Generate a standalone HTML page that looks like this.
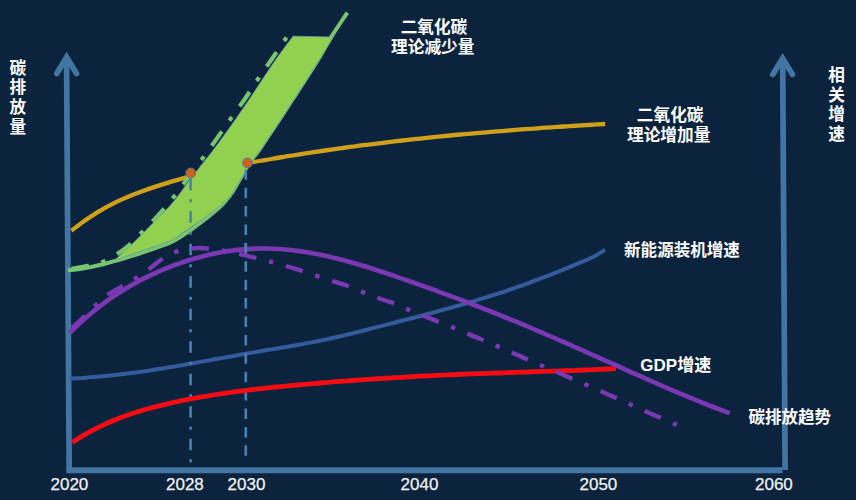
<!DOCTYPE html>
<html lang="zh"><head><meta charset="utf-8"><title>碳排放趋势</title>
<style>
html,body{margin:0;padding:0;background:#0c233e;}
body{width:856px;height:500px;overflow:hidden;font-family:"Liberation Sans",sans-serif;}
svg{display:block;}
</style></head><body>
<svg width="856" height="500" viewBox="0 0 856 500" role="img">
<title>碳排放趋势示意图</title>
<desc>碳排放量 / 相关增速 / 二氧化碳理论减少量 / 二氧化碳理论增加量 / 新能源装机增速 / GDP增速 / 碳排放趋势 / 2020 2028 2030 2040 2050 2060</desc>
<rect width="856" height="500" fill="#0c233e"/>
<g fill="none" stroke="#4375a2" stroke-width="5.7">
<path d="M69.2 470.2 L66.55 58"/>
<path d="M56.8 73.5 L66.6 57.3 L76.5 73.5" stroke-linecap="round" stroke-linejoin="miter" stroke-miterlimit="10"/>
<path d="M785.1 470 L782.7 59"/>
<path d="M772.8 74.4 L782.65 58.5 L792.5 74.4" stroke-linecap="round" stroke-linejoin="miter" stroke-miterlimit="10"/>
</g>
<path d="M66.25 470.2 H782.4" fill="none" stroke="#4375a2" stroke-width="6"/>
<path d="M69.6 378.6C71.6 378.5 77.5 378.2 81.5 378.0C85.5 377.7 89.4 377.5 93.4 377.1C97.4 376.8 101.3 376.5 105.3 376.1C109.3 375.7 113.2 375.3 117.2 374.8C121.2 374.3 125.1 373.9 129.1 373.3C133.1 372.8 137.0 372.3 141.0 371.7C145.0 371.2 148.9 370.6 152.9 370.0C156.9 369.4 160.8 368.7 164.8 368.1C168.7 367.4 172.7 366.8 176.7 366.1C180.6 365.4 184.6 364.7 188.6 364.0C192.5 363.3 196.5 362.6 200.5 361.9C204.4 361.2 208.4 360.5 212.4 359.8C216.3 359.1 220.3 358.3 224.3 357.6C228.2 356.9 232.2 356.2 236.2 355.5C240.1 354.7 244.1 354.0 248.1 353.3C252.0 352.6 256.0 351.9 260.0 351.3C263.9 350.6 267.9 349.9 271.9 349.2C275.8 348.6 279.8 347.9 283.8 347.2C287.7 346.6 291.7 345.9 295.7 345.2C299.6 344.5 303.6 343.8 307.6 343.1C311.5 342.3 315.5 341.6 319.5 340.8C323.4 340.0 327.4 339.2 331.4 338.3C335.3 337.4 339.3 336.5 343.2 335.6C347.2 334.6 351.2 333.7 355.1 332.7C359.1 331.7 363.1 330.7 367.0 329.7C371.0 328.7 375.0 327.6 378.9 326.6C382.9 325.6 386.9 324.6 390.8 323.6C394.8 322.6 398.8 321.6 402.7 320.5C406.7 319.5 410.7 318.5 414.6 317.5C418.6 316.4 422.6 315.4 426.5 314.4C430.5 313.3 434.5 312.3 438.4 311.2C442.4 310.1 446.4 309.0 450.3 307.9C454.3 306.8 458.3 305.7 462.2 304.5C466.2 303.4 470.2 302.2 474.1 301.1C478.1 299.9 482.1 298.7 486.0 297.4C490.0 296.2 494.0 294.9 497.9 293.7C501.9 292.4 505.9 291.1 509.8 289.7C513.8 288.4 517.7 287.0 521.7 285.6C525.7 284.1 529.6 282.7 533.6 281.2C537.6 279.7 541.5 278.2 545.5 276.7C549.5 275.2 553.4 273.6 557.4 272.0C561.4 270.4 565.3 268.8 569.3 267.2C573.3 265.5 577.2 263.9 581.2 262.2C585.2 260.5 589.1 259.0 593.1 257.0C597.1 254.9 603.0 251.0 605.0 249.8" fill="none" stroke="#355b9c" stroke-width="4"/>
<path d="M71.4 230.7C73.4 229.2 79.3 224.5 83.2 221.7C87.1 218.9 91.1 216.2 95.0 213.8C99.0 211.3 102.9 209.1 106.8 206.9C110.8 204.8 114.7 202.8 118.6 200.9C122.6 199.1 126.5 197.4 130.4 195.7C134.4 194.1 138.3 192.6 142.3 191.2C146.2 189.7 150.1 188.4 154.1 187.1C158.0 185.8 161.9 184.6 165.9 183.4C169.8 182.2 173.8 181.0 177.7 179.9C181.6 178.7 187.5 177.0 189.5 176.5M247.5 163.2C249.5 162.8 255.4 161.7 259.4 161.0C263.4 160.3 267.4 159.7 271.3 159.0C275.3 158.3 279.3 157.6 283.3 157.0C287.2 156.3 291.2 155.7 295.2 155.0C299.2 154.4 303.1 153.8 307.1 153.2C311.1 152.6 315.1 152.0 319.0 151.4C323.0 150.8 327.0 150.2 331.0 149.6C334.9 149.1 338.9 148.5 342.9 148.0C346.9 147.4 350.8 146.9 354.8 146.4C358.8 145.8 362.8 145.3 366.7 144.8C370.7 144.3 374.7 143.8 378.7 143.3C382.6 142.8 386.6 142.4 390.6 141.9C394.6 141.4 398.5 141.0 402.5 140.5C406.5 140.1 410.5 139.6 414.4 139.2C418.4 138.8 422.4 138.3 426.4 137.9C430.3 137.5 434.3 137.1 438.3 136.7C442.2 136.3 446.2 135.9 450.2 135.5C454.2 135.2 458.1 134.8 462.1 134.4C466.1 134.0 470.1 133.7 474.0 133.3C478.0 133.0 482.0 132.6 486.0 132.3C489.9 132.0 493.9 131.6 497.9 131.3C501.9 131.0 505.8 130.7 509.8 130.3C513.8 130.0 517.8 129.7 521.7 129.4C525.7 129.1 529.7 128.8 533.7 128.6C537.6 128.3 541.6 128.0 545.6 127.7C549.6 127.4 553.5 127.2 557.5 126.9C561.5 126.6 565.5 126.4 569.4 126.1C573.4 125.9 577.4 125.6 581.4 125.4C585.3 125.2 589.3 124.9 593.3 124.7C597.3 124.5 603.2 124.1 605.2 124.0" fill="none" stroke="#d0a01b" stroke-width="4.3"/>
<path d="M67.8 270.2C69.5 270.1 74.5 269.8 78.0 269.3C81.5 268.8 84.8 268.2 89.0 267.4C93.2 266.6 98.5 265.4 103.0 264.3C107.5 263.2 109.3 262.7 116.0 260.7C122.7 258.7 133.8 255.4 143.0 252.3C152.2 249.2 163.7 245.6 171.5 242.0C179.3 238.4 184.8 234.0 190.0 230.5C195.2 227.0 199.1 223.8 203.0 220.8C206.9 217.8 210.1 215.4 213.5 212.5C216.9 209.6 219.9 207.2 223.2 203.6C226.4 200.0 230.2 195.1 233.0 191.0C235.8 186.9 237.8 182.8 240.0 179.0C242.2 175.2 244.2 171.7 246.3 168.2C248.4 164.7 250.6 161.4 252.8 158.2C255.1 155.0 256.0 154.5 259.8 149.0C263.6 143.5 270.5 133.2 275.9 125.0C281.3 116.8 287.3 107.5 292.2 100.0C297.1 92.5 300.9 86.8 305.2 80.0C309.5 73.2 313.8 66.8 318.2 59.5C322.6 52.2 326.8 44.2 331.6 36.4C336.5 28.6 344.7 16.6 347.3 12.6" fill="none" stroke="#79c46f" stroke-width="4"/>
<path d="M115.0 260.0C117.7 257.5 125.4 250.6 131.2 245.0C137.1 239.4 144.8 231.5 150.0 226.2C155.2 221.0 158.3 218.1 162.5 213.8C166.7 209.4 171.3 204.5 175.0 200.0C178.7 195.5 181.5 191.2 184.8 186.8C188.1 182.4 191.6 177.7 194.6 173.8C197.6 169.9 199.5 167.5 202.6 163.5C205.7 159.5 208.5 156.4 213.3 150.0C218.1 143.6 224.9 134.4 231.6 125.0C238.2 115.6 245.9 104.3 253.2 93.5C260.5 82.7 268.9 69.5 275.5 60.0C282.1 50.5 290.2 40.2 293.1 36.2L333.1 37.1L333.1 37.1C330.8 40.8 323.8 52.4 319.4 59.5C314.9 66.7 310.7 73.2 306.4 80.0C302.1 86.8 298.3 92.5 293.4 100.0C288.5 107.5 282.5 116.8 277.1 125.0C271.7 133.2 264.9 143.5 261.0 149.0C257.1 154.5 256.3 155.0 254.0 158.2C251.7 161.4 249.5 164.9 247.3 168.4C245.1 171.9 243.2 175.3 241.0 179.0C238.8 182.7 236.7 186.6 233.8 190.6C230.9 194.6 226.9 199.5 223.5 203.0C220.1 206.5 214.9 210.3 213.2 211.8L171.2 240.8L115.0 260.0Z" fill="#92d050" stroke="#6a9db0" stroke-width="0.8" stroke-linejoin="round"/>
<path d="M66.5 269.6C70.1 269.0 81.8 267.2 88.0 265.9C94.2 264.6 97.6 264.3 103.5 261.6C109.4 258.9 117.2 254.4 123.5 249.7C129.8 244.9 135.5 238.8 141.2 233.1C147.0 227.4 152.8 221.3 158.2 215.3C163.6 209.3 168.8 203.2 173.8 196.9C178.8 190.6 183.4 184.1 188.2 177.7C193.0 171.3 197.7 164.9 202.5 158.4C207.3 151.9 212.1 145.2 216.8 138.6C221.5 132.0 226.1 125.2 230.8 118.6C235.4 112.0 240.1 105.8 244.7 99.2C249.3 92.6 253.6 85.6 258.1 78.9C262.6 72.2 267.3 65.6 271.9 59.0C276.4 52.4 282.9 42.7 285.4 39.1C287.9 35.5 286.5 37.5 286.7 37.2" fill="none" stroke="#79c46f" stroke-width="4.2" stroke-dasharray="17.5 13.1 4.4 13.2" stroke-dashoffset="43.0"/>
<path d="M190.6 178.8 V462.4" fill="none" stroke="#4a80b0" stroke-width="2.6" stroke-dasharray="11.5 9 3 9"/>
<path d="M245.8 169.3 V456" fill="none" stroke="#4a80b0" stroke-width="2.6" stroke-dasharray="10.5 7.9"/>
<path d="M72.3 442.4C73.6 441.6 77.6 438.9 80.3 437.3C83.0 435.7 85.6 434.1 88.3 432.7C90.9 431.2 93.6 429.8 96.3 428.4C98.9 427.1 101.6 425.8 104.3 424.6C106.9 423.3 109.6 422.2 112.3 421.0C114.9 419.9 117.6 418.9 120.3 417.8C122.9 416.8 125.6 415.8 128.2 414.9C130.9 414.0 133.6 413.1 136.2 412.3C138.9 411.4 141.6 410.6 144.2 409.8C146.9 409.1 149.6 408.3 152.2 407.6C154.9 406.9 157.6 406.2 160.2 405.6C162.9 404.9 165.5 404.3 168.2 403.6C170.9 403.0 173.5 402.4 176.2 401.9C178.9 401.3 181.5 400.7 184.2 400.2C186.9 399.6 189.5 399.1 192.2 398.6C194.9 398.1 197.5 397.6 200.2 397.1C202.8 396.7 205.5 396.2 208.2 395.8C210.8 395.3 213.5 394.9 216.2 394.5C218.8 394.1 221.5 393.7 224.2 393.3C226.8 392.9 229.5 392.5 232.2 392.2C234.8 391.8 237.5 391.4 240.1 391.1C242.8 390.8 245.5 390.4 248.1 390.1C250.8 389.8 253.5 389.5 256.1 389.2C258.8 388.9 261.5 388.6 264.1 388.3C266.8 388.0 269.5 387.7 272.1 387.4C274.8 387.1 277.4 386.9 280.1 386.6C282.8 386.4 285.4 386.1 288.1 385.8C290.8 385.6 293.4 385.3 296.1 385.1C298.8 384.9 301.4 384.6 304.1 384.4C306.8 384.2 309.4 383.9 312.1 383.7C314.7 383.5 317.4 383.2 320.1 383.0C322.7 382.8 325.4 382.6 328.1 382.4C330.7 382.1 333.4 381.9 336.1 381.7C338.7 381.5 341.4 381.3 344.1 381.1C346.7 380.9 349.4 380.7 352.0 380.5C354.7 380.3 357.4 380.1 360.0 379.9C362.7 379.7 365.4 379.5 368.0 379.3C370.7 379.1 373.4 379.0 376.0 378.8C378.7 378.6 381.3 378.4 384.0 378.3C386.7 378.1 389.3 377.9 392.0 377.8C394.7 377.6 397.3 377.4 400.0 377.3C402.7 377.1 405.3 377.0 408.0 376.8C410.7 376.7 413.3 376.5 416.0 376.4C418.6 376.3 421.3 376.1 424.0 376.0C426.6 375.9 429.3 375.7 432.0 375.6C434.6 375.5 437.3 375.4 440.0 375.2C442.6 375.1 445.3 375.0 448.0 374.9C450.6 374.8 453.3 374.7 455.9 374.5C458.6 374.4 461.3 374.3 463.9 374.2C466.6 374.1 469.3 374.0 471.9 373.9C474.6 373.8 477.3 373.7 479.9 373.6C482.6 373.5 485.3 373.4 487.9 373.3C490.6 373.2 493.2 373.1 495.9 373.0C498.6 373.0 501.2 372.9 503.9 372.8C506.6 372.7 509.2 372.6 511.9 372.5C514.6 372.4 517.2 372.3 519.9 372.2C522.6 372.1 525.2 372.0 527.9 372.0C530.5 371.9 533.2 371.8 535.9 371.7C538.5 371.6 541.2 371.5 543.9 371.4C546.5 371.3 549.2 371.2 551.9 371.1C554.5 371.1 557.2 371.0 559.9 370.9C562.5 370.8 565.2 370.7 567.8 370.6C570.5 370.5 573.2 370.4 575.8 370.3C578.5 370.2 581.2 370.1 583.8 370.0C586.5 369.9 589.2 369.8 591.8 369.7C594.5 369.5 597.2 369.4 599.8 369.3C602.5 369.2 605.1 369.1 607.8 369.0C610.5 368.9 614.5 368.7 615.8 368.6" fill="none" stroke="#f40c12" stroke-width="4.8"/>
<path d="M69.6 332.9C71.6 331.0 77.6 325.1 81.6 321.5C85.6 317.9 89.6 314.5 93.6 311.2C97.6 308.0 101.6 304.9 105.6 301.9C109.6 299.0 113.6 296.3 117.6 293.6C121.6 291.0 125.6 288.6 129.6 286.2C133.6 283.9 137.6 281.7 141.6 279.6C145.6 277.5 149.6 275.6 153.6 273.8C157.6 271.9 161.6 270.2 165.6 268.6C169.6 267.0 173.6 265.4 177.6 264.0C181.6 262.6 185.6 261.3 189.6 260.0C193.6 258.8 197.6 257.7 201.6 256.7C205.6 255.6 209.6 254.7 213.6 253.8C217.6 253.0 221.6 252.2 225.6 251.6C229.6 250.9 233.6 250.4 237.6 249.9C241.6 249.5 245.6 249.1 249.6 248.9C253.6 248.6 257.6 248.5 261.6 248.5C265.6 248.4 269.6 248.5 273.6 248.7C277.6 248.9 281.6 249.2 285.6 249.5C289.6 249.9 293.6 250.4 297.6 250.9C301.6 251.4 305.6 252.1 309.6 252.7C313.6 253.4 317.6 254.2 321.6 255.1C325.6 255.9 329.6 256.8 333.6 257.8C337.6 258.7 341.6 259.8 345.6 260.8C349.6 261.9 353.6 263.0 357.6 264.2C361.6 265.4 365.6 266.6 369.6 267.8C373.6 269.1 377.6 270.4 381.6 271.7C385.6 273.0 389.6 274.3 393.6 275.7C397.6 277.1 401.7 278.5 405.7 279.9C409.7 281.3 413.7 282.7 417.7 284.1C421.7 285.5 425.7 286.9 429.7 288.4C433.7 289.8 437.7 291.3 441.7 292.8C445.7 294.2 449.7 295.7 453.7 297.2C457.7 298.7 461.7 300.2 465.7 301.7C469.7 303.2 473.7 304.8 477.7 306.3C481.7 307.9 485.7 309.5 489.7 311.0C493.7 312.6 497.7 314.2 501.7 315.8C505.7 317.5 509.7 319.1 513.7 320.7C517.7 322.4 521.7 324.1 525.7 325.7C529.7 327.4 533.7 329.1 537.7 330.8C541.7 332.5 545.7 334.3 549.7 336.0C553.7 337.7 557.7 339.4 561.7 341.2C565.7 342.9 569.7 344.7 573.7 346.5C577.7 348.2 581.7 350.0 585.7 351.8C589.7 353.6 593.7 355.4 597.7 357.2C601.7 359.0 605.7 360.7 609.7 362.5C613.7 364.3 617.7 366.1 621.7 367.9C625.7 369.7 629.7 371.5 633.7 373.3C637.7 375.1 641.7 376.8 645.7 378.6C649.7 380.4 653.7 382.1 657.7 383.9C661.7 385.6 665.7 387.4 669.7 389.1C673.7 390.8 677.7 392.5 681.7 394.2C685.7 395.8 689.7 397.5 693.7 399.1C697.7 400.8 701.7 402.4 705.7 404.0C709.7 405.6 713.7 407.1 717.7 408.6C721.7 410.2 727.7 412.4 729.7 413.2" fill="none" stroke="#7a38b2" stroke-width="4.6"/>
<path d="M245.8 242.9 V253.4" fill="none" stroke="#4a80b0" stroke-width="2.6"/>
<path d="M68.6 330.8C69.9 329.6 73.9 326.3 76.6 323.8C79.3 321.4 81.9 318.7 84.6 316.1C87.3 313.5 89.9 310.8 92.6 308.2C95.3 305.6 97.9 303.0 100.6 300.6C103.3 298.3 105.9 296.1 108.6 294.2C111.3 292.3 113.9 290.9 116.6 289.4C119.3 287.9 122.0 286.5 124.6 285.0C127.3 283.4 130.0 281.7 132.6 280.0C135.3 278.4 138.0 276.7 140.6 275.0C143.3 273.2 146.0 271.5 148.6 269.5C151.3 267.5 154.0 265.1 156.6 263.1C159.3 261.0 162.0 258.8 164.6 257.1C167.3 255.5 170.0 254.1 172.6 253.0C175.3 251.8 178.0 251.0 180.6 250.3C183.3 249.6 186.0 249.1 188.6 248.7C191.3 248.4 194.0 248.2 196.6 248.1C199.3 248.0 202.0 248.1 204.6 248.3C207.3 248.4 210.0 248.7 212.6 249.0C215.3 249.3 218.0 249.7 220.6 250.1C223.3 250.5 226.0 251.1 228.7 251.6C231.3 252.1 234.0 252.7 236.7 253.3C239.3 253.9 242.0 254.5 244.7 255.2C247.3 255.8 250.0 256.5 252.7 257.1C255.3 257.8 258.0 258.5 260.7 259.1C263.3 259.8 266.0 260.5 268.7 261.2C271.3 261.9 274.0 262.6 276.7 263.4C279.3 264.1 282.0 264.9 284.7 265.6C287.3 266.4 290.0 267.2 292.7 268.0C295.3 268.8 298.0 269.6 300.7 270.5C303.3 271.4 306.0 272.2 308.7 273.1C311.3 274.0 314.0 275.0 316.7 275.9C319.3 276.8 322.0 277.7 324.7 278.6C327.4 279.5 330.0 280.3 332.7 281.2C335.4 282.0 338.0 282.8 340.7 283.6C343.4 284.5 346.0 285.3 348.7 286.3C351.4 287.3 354.0 288.4 356.7 289.5C359.4 290.6 362.0 291.8 364.7 292.9C367.4 294.0 370.0 295.2 372.7 296.2C375.4 297.3 378.0 298.2 380.7 299.0C383.4 299.9 386.0 300.6 388.7 301.5C391.4 302.4 394.0 303.3 396.7 304.4C399.4 305.5 402.0 306.9 404.7 308.1C407.4 309.3 410.0 310.6 412.7 311.7C415.4 312.8 418.0 313.8 420.7 314.8C423.4 315.8 426.1 316.8 428.7 317.9C431.4 318.9 434.1 320.0 436.7 321.0C439.4 322.1 442.1 323.1 444.7 324.2C447.4 325.3 450.1 326.3 452.7 327.4C455.4 328.5 458.1 329.6 460.7 330.7C463.4 331.8 466.1 332.9 468.7 334.1C471.4 335.2 474.1 336.3 476.7 337.4C479.4 338.6 482.1 339.7 484.7 340.9C487.4 342.0 490.1 343.1 492.7 344.3C495.4 345.4 498.1 346.6 500.7 347.8C503.4 348.9 506.1 350.1 508.7 351.2C511.4 352.4 514.1 353.6 516.7 354.7C519.4 355.9 522.1 357.0 524.7 358.2C527.4 359.4 530.1 360.5 532.8 361.7C535.4 362.8 538.1 364.0 540.8 365.2C543.4 366.3 546.1 367.5 548.8 368.6C551.4 369.8 554.1 370.9 556.8 372.1C559.4 373.2 562.1 374.4 564.8 375.5C567.4 376.6 570.1 377.8 572.8 378.9C575.4 380.1 578.1 381.2 580.8 382.4C583.4 383.5 586.1 384.7 588.8 385.9C591.4 387.0 594.1 388.2 596.8 389.4C599.4 390.5 602.1 391.7 604.8 392.9C607.4 394.1 610.1 395.3 612.8 396.4C615.4 397.6 618.1 398.9 620.8 400.1C623.4 401.3 626.1 402.5 628.8 403.7C631.5 404.9 634.1 406.2 636.8 407.4C639.5 408.6 642.1 409.8 644.8 411.0C647.5 412.2 650.1 413.3 652.8 414.5C655.5 415.7 658.1 416.8 660.8 417.9C663.5 419.1 666.1 420.1 668.8 421.3C671.5 422.5 675.5 424.4 676.8 425.0" fill="none" stroke="#7a38b2" stroke-width="4.4" stroke-dasharray="17.6 13.2 4.4 13.2" stroke-dashoffset="43.8"/>
<circle cx="190.8" cy="173.0" r="4.9" fill="#d2601a" stroke="#5b7690" stroke-width="1"/>
<circle cx="247.5" cy="162.9" r="4.9" fill="#d2601a" stroke="#5b7690" stroke-width="1"/>
<g font-family="'Liberation Sans', 'Noto Sans CJK SC', sans-serif" font-weight="bold" fill="#fff">
<text x="400.66" y="33.10" font-size="16.67">二氧化碳</text>
<text x="391.12" y="52.70" font-size="16.67">理论减少量</text>
<text x="636.86" y="121.20" font-size="16.67">二氧化碳</text>
<text x="627.03" y="140.80" font-size="16.67">理论增加量</text>
<text x="624.10" y="255.80" font-size="16.55">新能源装机增速</text>
<text x="640.30" y="371.40" font-size="17">GDP增速</text>
<text x="748.50" y="423.40" font-size="16.5">碳排放趋势</text>
<text x="9.56" y="73.50" font-size="16.67">碳</text>
<text x="9.56" y="93.20" font-size="16.67">排</text>
<text x="9.56" y="112.90" font-size="16.67">放</text>
<text x="9.56" y="132.60" font-size="16.67">量</text>
<text x="828.26" y="81.00" font-size="16.67">相</text>
<text x="828.26" y="100.70" font-size="16.67">关</text>
<text x="828.26" y="120.40" font-size="16.67">增</text>
<text x="828.26" y="140.10" font-size="16.67">速</text>
</g>
<g font-family="'Liberation Sans', sans-serif" font-size="17" fill="#f2f2f2" stroke="#f2f2f2" stroke-width="0.25" text-anchor="middle">
<text x="69.4" y="490.3">2020</text>
<text x="184.9" y="490.3">2028</text>
<text x="246.5" y="490.3">2030</text>
<text x="419.5" y="490.3">2040</text>
<text x="598.4" y="490.3">2050</text>
<text x="773.9" y="490.3">2060</text>
</g></svg>
</body></html>
